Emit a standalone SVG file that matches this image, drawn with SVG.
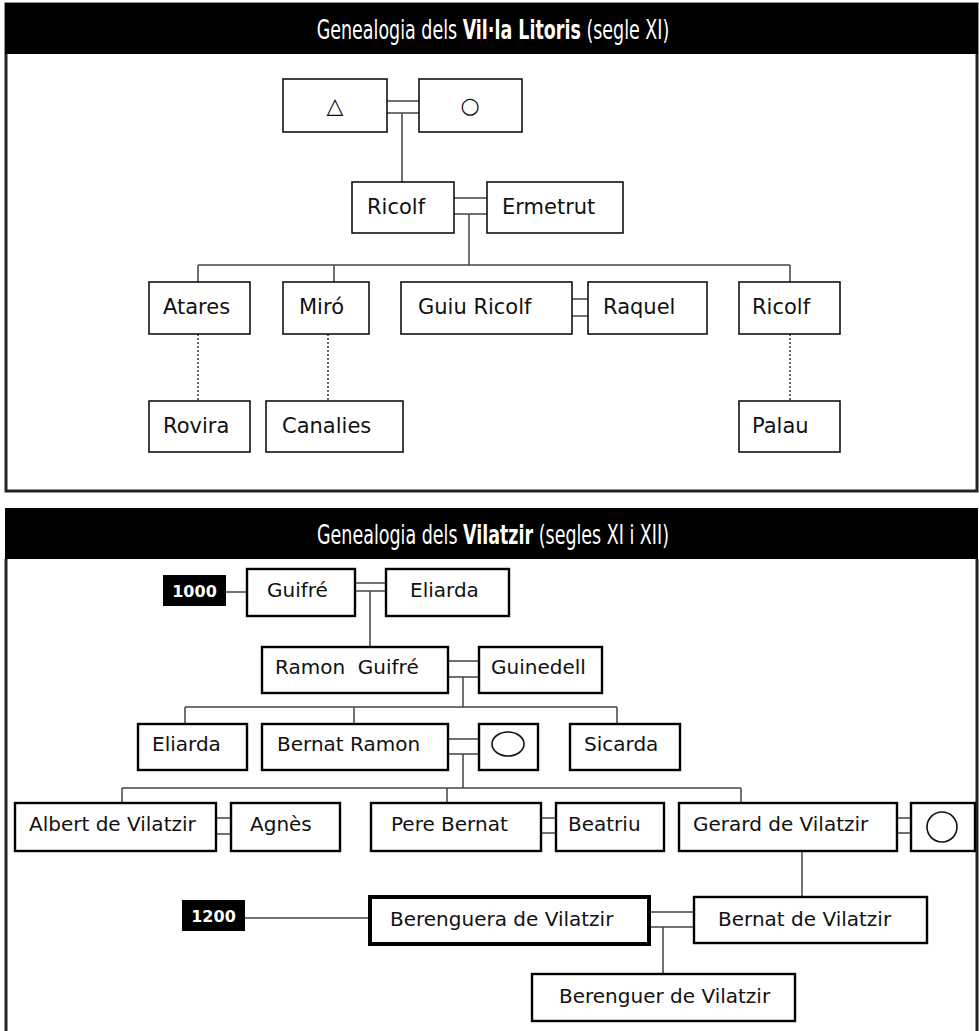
<svg xmlns="http://www.w3.org/2000/svg" width="979" height="1031" viewBox="0 0 979 1031">
<style>
.bg{fill:#fff}
.hdr{fill:#000}
.frame{fill:none;stroke:#222;stroke-width:3}
.box{fill:#fff;stroke:#111;stroke-width:1.6}
.box2{fill:#fff;stroke:#000;stroke-width:2.4}
.thick{fill:#fff;stroke:#000;stroke-width:4}
.t{font-family:'DejaVu Sans',Verdana,sans-serif;font-size:21px;fill:#111}
.t2{font-family:'DejaVu Sans',Verdana,sans-serif;font-size:20px;fill:#111}
.sym{font-family:'DejaVu Sans',sans-serif;font-size:22px;fill:#111;text-anchor:middle}
.ttl{font-family:'DejaVu Sans Condensed','DejaVu Sans',sans-serif;font-stretch:condensed;font-size:27px;fill:#fff;text-anchor:middle}
.b{font-weight:bold}
.yr{fill:#000}
.yrt{font-family:'DejaVu Sans',Verdana,sans-serif;font-weight:bold;font-size:16px;fill:#fff;text-anchor:middle}
.c{fill:none;stroke:#444;stroke-width:1.5}
.d{fill:none;stroke:#333;stroke-width:1.5;stroke-dasharray:2 2}
.shape{fill:none;stroke:#111;stroke-width:1.6}
</style>
<rect class="bg" x="0" y="0" width="979" height="1031"/>

<g id="panel1">
<rect class="frame" x="6" y="4" width="971" height="487"/>
<rect class="hdr" x="5" y="3" width="973" height="51"/>
<g transform="translate(493,39) scale(0.72,1)"><text class="ttl" x="0" y="0">Genealogia dels <tspan class="b">Vil·la Litoris</tspan> (segle XI)</text></g>
</g>

<g id="panel2">
<path class="frame" d="M6,559 V1033 M977,559 V1033"/>
<rect class="hdr" x="5" y="508" width="973" height="51"/>
<g transform="translate(493,544) scale(0.72,1)"><text class="ttl" x="0" y="0">Genealogia dels <tspan class="b">Vilatzir</tspan> (segles XI i XII)</text></g>
</g>

<g id="connectors">
<path class="c" d="M387,101 H419 M387,113 H419 M402,113 V182"/>
<path class="c" d="M454,198 H487 M454,214 H487 M469,214 V265"/>
<path class="c" d="M198,265 H790 M198,265 V282 M334,265 V282 M790,265 V282"/>
<path class="c" d="M572,299 H588 M572,316 H588"/>
<path class="d" d="M198,334 V401 M328,334 V401 M790,334 V401"/>

<path class="c" d="M226,592 H247"/>
<path class="c" d="M355,583 H386 M355,591 H386 M370,591 V647"/>
<path class="c" d="M448,661 H479 M448,677 H479 M463,677 V707"/>
<path class="c" d="M185,707 H617 M185,707 V724 M354,707 V724 M617,707 V724"/>
<path class="c" d="M448,739 H479 M448,754 H479 M463,754 V788"/>
<path class="c" d="M122,788 H741 M122,788 V803 M447,788 V803 M741,788 V803"/>
<path class="c" d="M216,818 H231 M216,834 H231"/>
<path class="c" d="M541,818 H556 M541,833 H556"/>
<path class="c" d="M897,818 H911 M897,833 H911"/>
<path class="c" d="M802,851 V897"/>
<path class="c" d="M245,918 H370"/>
<path class="c" d="M651,912 H694 M651,927 H694 M663,927 V974"/>
</g>

<g id="n-tri"><rect class="box" x="283" y="79" width="104" height="53"/><text class="sym" x="335" y="113">△</text></g>
<g id="n-circ"><rect class="box" x="419" y="79" width="103" height="53"/><text class="sym" x="470" y="113">○</text></g>
<g id="n-ricolf1"><rect class="box" x="352" y="182" width="102" height="51"/><text class="t" x="367" y="214">Ricolf</text></g>
<g id="n-ermetrut"><rect class="box" x="487" y="182" width="136" height="51"/><text class="t" x="502" y="214">Ermetrut</text></g>
<g id="n-atares"><rect class="box" x="149" y="282" width="101" height="52"/><text class="t" x="163" y="314">Atares</text></g>
<g id="n-miro"><rect class="box" x="283" y="282" width="86" height="52"/><text class="t" x="299" y="314">Miró</text></g>
<g id="n-guiu"><rect class="box" x="401" y="282" width="171" height="52"/><text class="t" x="418" y="314">Guiu Ricolf</text></g>
<g id="n-raquel"><rect class="box" x="588" y="282" width="119" height="52"/><text class="t" x="603" y="314">Raquel</text></g>
<g id="n-ricolf2"><rect class="box" x="739" y="282" width="101" height="52"/><text class="t" x="752" y="314">Ricolf</text></g>
<g id="n-rovira"><rect class="box" x="149" y="401" width="101" height="51"/><text class="t" x="163" y="433">Rovira</text></g>
<g id="n-canalies"><rect class="box" x="266" y="401" width="137" height="51"/><text class="t" x="282" y="433">Canalies</text></g>
<g id="n-palau"><rect class="box" x="739" y="401" width="101" height="51"/><text class="t" x="752" y="433">Palau</text></g>

<g id="y1000"><rect class="yr" x="163" y="575" width="63" height="31"/><text class="yrt" x="194.5" y="597">1000</text></g>
<g id="n-guifre"><rect class="box2" x="247" y="569" width="108" height="47"/><text class="t2" x="267" y="597">Guifré</text></g>
<g id="n-eliarda1"><rect class="box2" x="386" y="569" width="123" height="47"/><text class="t2" x="410" y="597">Eliarda</text></g>
<g id="n-ramon"><rect class="box2" x="262" y="647" width="186" height="46"/><text class="t2" x="275" y="674" xml:space="preserve">Ramon  Guifré</text></g>
<g id="n-guinedell"><rect class="box2" x="479" y="647" width="123" height="46"/><text class="t2" x="491" y="674">Guinedell</text></g>
<g id="n-eliarda2"><rect class="box2" x="138" y="724" width="109" height="46"/><text class="t2" x="152" y="751">Eliarda</text></g>
<g id="n-bernatramon"><rect class="box2" x="262" y="724" width="186" height="46"/><text class="t2" x="277" y="751">Bernat Ramon</text></g>
<g id="n-oval"><rect class="box2" x="479" y="724" width="59" height="46"/><ellipse class="shape" cx="508" cy="744" rx="16" ry="12"/></g>
<g id="n-sicarda"><rect class="box2" x="570" y="724" width="110" height="46"/><text class="t2" x="584" y="751">Sicarda</text></g>
<g id="n-albert"><rect class="box2" x="15" y="803" width="201" height="48"/><text class="t2" x="29" y="831">Albert de Vilatzir</text></g>
<g id="n-agnes"><rect class="box2" x="231" y="803" width="109" height="48"/><text class="t2" x="250" y="831">Agnès</text></g>
<g id="n-pere"><rect class="box2" x="371" y="803" width="170" height="48"/><text class="t2" x="391" y="831">Pere Bernat</text></g>
<g id="n-beatriu"><rect class="box2" x="556" y="803" width="108" height="48"/><text class="t2" x="568" y="831">Beatriu</text></g>
<g id="n-gerard"><rect class="box2" x="679" y="803" width="218" height="48"/><text class="t2" x="693" y="831">Gerard de Vilatzir</text></g>
<g id="n-circ2"><rect class="box2" x="911" y="803" width="64" height="48"/><circle class="shape" cx="942" cy="827" r="15"/></g>
<g id="y1200"><rect class="yr" x="182" y="900" width="63" height="31"/><text class="yrt" x="213.5" y="922">1200</text></g>
<g id="n-berenguera"><rect class="thick" x="370" y="897" width="279" height="47"/><text class="t2" x="390" y="926">Berenguera de Vilatzir</text></g>
<g id="n-bernatv"><rect class="box2" x="694" y="897" width="233" height="46"/><text class="t2" x="718" y="926">Bernat de Vilatzir</text></g>
<g id="n-berenguer"><rect class="box2" x="532" y="974" width="263" height="47"/><text class="t2" x="559" y="1003">Berenguer de Vilatzir</text></g>
</svg>
